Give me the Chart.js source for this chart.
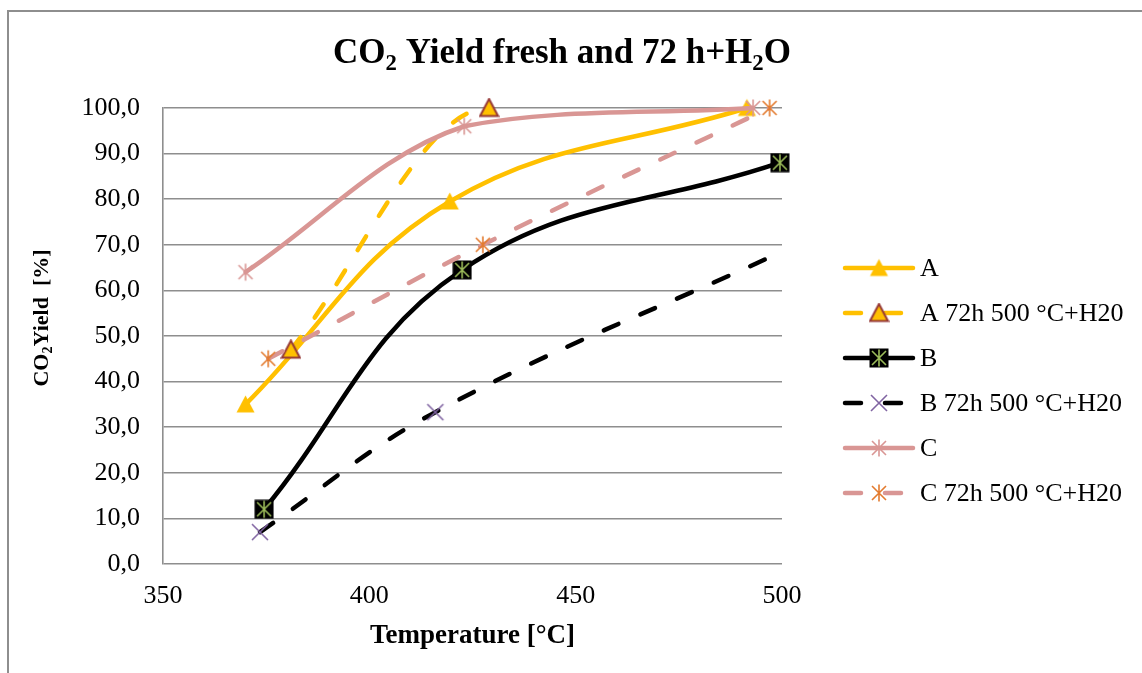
<!DOCTYPE html>
<html>
<head>
<meta charset="utf-8">
<script src="https://cdn.jsdelivr.net/npm/chart.js@4.4.1/dist/chart.umd.min.js"></script>
<style>
  html, body { margin: 0; padding: 0; background: #fff; }
  #wrap { width: 1142px; height: 673px; }
</style>
</head>
<body>
<div id="wrap"><canvas id="co2Chart" width="1142" height="673"></canvas></div>
<script>
// values
const tempA = [370, 419.5, 491.5];
const yieldA = [35, 79.5, 100];
const tempA72 = [381, 429, 500];
const yieldA72 = [47, 100, 100];
const tempB = [374.5, 422.5, 499.5];
const yieldB = [12, 64.5, 88];
const tempB72 = [373.5, 416, 500];
const yieldB72 = [7, 33.3, 68.5];
const tempC = [370, 423, 493];
const yieldC = [64, 96, 100];
const tempC72 = [375.5, 427.5, 497];
const yieldC72 = [45, 70, 100];

const seriesNames = ["A", "A 72h 500 °C+H20", "B", "B 72h 500 °C+H20", "C", "C 72h 500 °C+H20"];
const xTicks = [350, 400, 450, 500];

const serif = "'Liberation Serif', 'Times New Roman', serif";
const gridGrey = "#8e8e8e";

const toPoints = (xs, ys) => xs.map((x, i) => ({ x: x, y: ys[i] }));

// small canvases used as Excel-like markers
function makeMarker(size, paint) {
  const c = document.createElement("canvas");
  c.width = size;
  c.height = size;
  paint(c.getContext("2d"), size);
  return c;
}

function triangle(fill, stroke) {
  return makeMarker(21, (ctx, s) => {
    ctx.beginPath();
    ctx.moveTo(s / 2, 1.5);
    ctx.lineTo(s - 1.5, s - 2.5);
    ctx.lineTo(1.5, s - 2.5);
    ctx.closePath();
    ctx.fillStyle = fill;
    ctx.fill();
    if (stroke) {
      ctx.strokeStyle = stroke;
      ctx.lineWidth = 2;
      ctx.stroke();
    }
  });
}

function star(color, box) {
  return makeMarker(20, (ctx, s) => {
    if (box) {
      ctx.fillStyle = box;
      ctx.fillRect(0.5, 0.5, s - 1, s - 1);
    }
    ctx.strokeStyle = color;
    ctx.lineWidth = 1.6;
    ctx.beginPath();
    ctx.moveTo(s / 2, 1.5);
    ctx.lineTo(s / 2, s - 1.5);
    ctx.moveTo(3, 3);
    ctx.lineTo(s - 3, s - 3);
    ctx.moveTo(s - 3, 3);
    ctx.lineTo(3, s - 3);
    ctx.stroke();
  });
}

function cross(color) {
  return makeMarker(20, (ctx, s) => {
    ctx.strokeStyle = color;
    ctx.lineWidth = 1.6;
    ctx.beginPath();
    ctx.moveTo(2, 2);
    ctx.lineTo(s - 2, s - 2);
    ctx.moveTo(s - 2, 2);
    ctx.lineTo(2, s - 2);
    ctx.stroke();
  });
}

const markers = [
  triangle("#FFC000"),
  triangle("#FFC000", "#953735"),
  star("#9BBB59", "#000000"),
  cross("#8064A2"),
  star("#D99694"),
  star("#E37B2F"),
];

const solid = [];
const dashed = [16, 24];

const datasets = [
  { data: toPoints(tempA, yieldA), borderColor: "#FFC000", borderDash: solid, pointRadius: 9 },
  {
    data: toPoints(tempA72, yieldA72),
    borderColor: "#FFC000",
    borderDash: dashed,
    pointRadius: [9, 9, 0],
    cubicInterpolationMode: "monotone",
    // the flat part at 100 % sits under the C curve in the original
    segment: { borderColor: (c) => (c.p0DataIndex > 0 ? "rgba(0,0,0,0)" : undefined) },
  },
  { data: toPoints(tempB, yieldB), borderColor: "#000000", borderDash: solid, pointRadius: 9 },
  { data: toPoints(tempB72, yieldB72), borderColor: "#000000", borderDash: dashed, pointRadius: [9, 9, 0] },
  { data: toPoints(tempC, yieldC), borderColor: "#D99694", borderDash: solid, pointRadius: 9, tension: 0.35 },
  { data: toPoints(tempC72, yieldC72), borderColor: "#D99694", borderDash: dashed, pointRadius: 9 },
].map((ds, i) => ({
  label: seriesNames[i],
  borderWidth: 4.5,
  borderCapStyle: "round",
  borderJoinStyle: "round",
  tension: 0.4,
  fill: false,
  clip: false,
  pointStyle: markers[i],
  order: 6 - i,
  ...ds,
}));

// text with subscripts, parts like [["CO"], ["2", true]]
function drawRich(ctx, parts, x, y, size, align) {
  const sub = size * 0.65;
  const widths = parts.map(([t, isSub]) => {
    ctx.font = "bold " + (isSub ? sub : size) + "px " + serif;
    return ctx.measureText(t).width;
  });
  const total = widths.reduce((a, b) => a + b, 0);
  let cx = align === "center" ? x - total / 2 : x;
  parts.forEach(([t, isSub], i) => {
    ctx.font = "bold " + (isSub ? sub : size) + "px " + serif;
    ctx.fillText(t, cx, isSub ? y + size * 0.2 : y);
    cx += widths[i];
  });
}

const decor = {
  id: "decor",
  beforeDraw(chart) {
    const ctx = chart.ctx;
    ctx.save();
    ctx.fillStyle = "#ffffff";
    ctx.fillRect(0, 0, chart.width, chart.height);
    ctx.strokeStyle = gridGrey;
    ctx.lineWidth = 2;
    ctx.beginPath();
    ctx.moveTo(8, chart.height);
    ctx.lineTo(8, 11);
    ctx.lineTo(chart.width, 11);
    ctx.stroke();
    ctx.restore();
  },
  afterDraw(chart) {
    const ctx = chart.ctx;
    const area = chart.chartArea;
    ctx.save();
    ctx.fillStyle = "#000";
    ctx.textBaseline = "alphabetic";

    // chart title
    drawRich(ctx, [["CO"], ["2", true], [" Yield fresh and 72 h+H"], ["2", true], ["O"]], 562, 63, 35, "center");

    // axis titles
    drawRich(ctx, [["Temperature [°C]"]], (area.left + area.right) / 2, 643, 27, "center");
    ctx.save();
    ctx.translate(48, (area.top + area.bottom) / 2 - 18);
    ctx.rotate(-Math.PI / 2);
    drawRich(ctx, [["CO"], ["2", true], ["Yield  [%]"]], 0, 0, 22, "center");
    ctx.restore();

    // legend: line sample + marker + label
    chart.data.datasets.forEach((ds, i) => {
      const y = 268 + i * 45;
      ctx.save();
      ctx.strokeStyle = ds.borderColor;
      ctx.lineWidth = ds.borderWidth;
      ctx.lineCap = ds.borderCapStyle;
      ctx.setLineDash(ds.borderDash);
      ctx.beginPath();
      ctx.moveTo(845, y);
      ctx.lineTo(ds.borderDash.length ? 905 : 913, y);
      ctx.stroke();
      ctx.restore();
      const m = ds.pointStyle;
      ctx.drawImage(m, 879 - m.width / 2, y - m.height / 2);
      ctx.font = "26px " + serif;
      ctx.textBaseline = "middle";
      ctx.fillText(ds.label, 920, y + 1);
    });
    ctx.restore();
  },
};

new Chart(document.getElementById("co2Chart"), {
  type: "line",
  data: { datasets: datasets },
  plugins: [decor],
  options: {
    responsive: false,
    animation: false,
    events: [],
    layout: { padding: { left: 0, top: 108, right: 360, bottom: 0 } },
    plugins: {
      legend: { display: false },
      title: { display: false },
      tooltip: { enabled: false },
    },
    scales: {
      x: {
        type: "linear",
        min: 350,
        max: 500,
        afterBuildTicks: (scale) => {
          scale.ticks = xTicks.map((v) => ({ value: v }));
        },
        afterFit: (scale) => {
          scale.height = 109;
        },
        grid: { display: false, drawTicks: false },
        border: { display: false },
        ticks: {
          padding: 17,
          color: "#000",
          font: { family: serif, size: 26 },
        },
      },
      y: {
        min: 0,
        max: 100,
        afterFit: (scale) => {
          scale.width = 163;
        },
        grid: { color: gridGrey, lineWidth: 1.6, drawTicks: false },
        border: { display: true, color: gridGrey, width: 1.6 },
        ticks: {
          stepSize: 10,
          padding: 23,
          color: "#000",
          font: { family: serif, size: 26 },
          callback: (v) => v.toFixed(1).replace(".", ","),
        },
      },
    },
  },
});
</script>
</body>
</html>
